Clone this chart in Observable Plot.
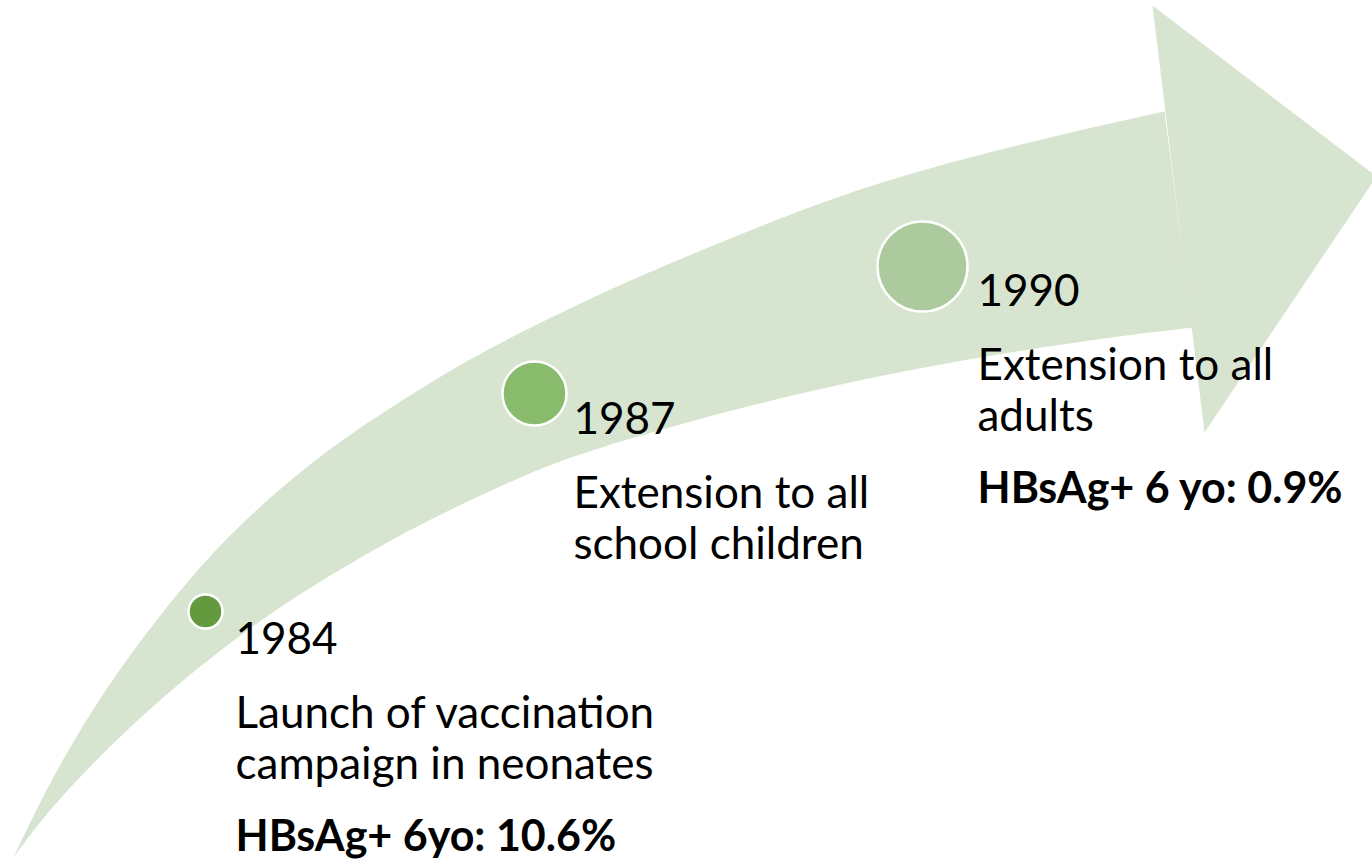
<!DOCTYPE html>
<html>
<head>
<meta charset="utf-8">
<script src="https://cdn.jsdelivr.net/npm/d3@7"></script>
<script src="https://cdn.jsdelivr.net/npm/@observablehq/plot@0.6"></script>
<style>
  html, body { margin: 0; padding: 0; background: #ffffff; }
  #chart svg { display: block; }
</style>
</head>
<body>
<div id="chart"></div>
<script>
// ---- data ----
const years = ["1984", "1987", "1990"];
const milestones = [
  "Launch of vaccination\ncampaign in neonates",
  "Extension to all\nschool children",
  "Extension to all\nadults"
];
const prevalence = ["HBsAg+ 6yo: 10.6%", "", "HBsAg+ 6 yo: 0.9%"];

// ---- layout (pixel frame 1372 x 864) ----
const arrowUpperEdge = [[13,857],[45,790],[80,728],[120,667],[160,614],[200,565],[250,514],[300,471],[350,433],[420,388],[480,352],[580,302],[680,258],[813,204],[916,170],[1076,130],[1164,111],[1164,111],[1164,111]];
const arrowLowerEdge = [[13,857],[40,820],[80,775],[140,716],[200,665],[257,622],[300,593],[353,561],[420,523],[520,476],[583,451],[756,402],[916,367],[1076,341],[1192,327],[1192,327],[1192,327]];
const arrowHead = [[1152,5],[1376,176],[1204,432]];
const markers = [[205,611,17],[534,393,32],[922,266,45]];
const labelAnchors = [[235,653],[573,433],[977,305]];
const markerColors = ["#649a3e", "#88bb6b", "#acca9e"];
const arrowColor = "#d7e4cf";

const shaft = [...arrowUpperEdge, ...arrowLowerEdge.slice().reverse()].map(([x, y]) => ({x, y}));
const head = arrowHead.map(([x, y]) => ({x, y}));
const events = years.map((year, i) => ({
  year,
  milestone: milestones[i],
  prevalence: prevalence[i],
  cx: markers[i][0], cy: markers[i][1], r: markers[i][2],
  tx: labelAnchors[i][0], ty: labelAnchors[i][1],
  color: markerColors[i]
}));

const font = "Lato, 'Open Sans', sans-serif";
const fs = 44;

const chart = Plot.plot({
  width: 1372,
  height: 864,
  margin: 0,
  x: {domain: [0, 1372], range: [0, 1372], axis: null},
  y: {domain: [0, 864], range: [0, 864], axis: null},
  r: {type: "identity"},
  color: {type: "identity"},
  style: {background: "#ffffff", fontFamily: font, overflow: "hidden"},
  marks: [
    Plot.line(shaft, {x: "x", y: "y", fill: arrowColor, stroke: "none", curve: "basis"}),
    Plot.line(head, {x: "x", y: "y", fill: arrowColor, stroke: "none", curve: "linear-closed"}),
    Plot.dot(events, {x: "cx", y: "cy", r: "r", fill: "color", stroke: "white", strokeWidth: 2.5}),
    Plot.text(events, {x: "tx", y: "ty", text: "year", textAnchor: "start", lineAnchor: "bottom",
      fontSize: fs, fontFamily: font, fill: "black"}),
    Plot.text(events, {x: "tx", y: d => d.ty + 125, text: "milestone", textAnchor: "start", lineAnchor: "bottom",
      lineHeight: 51 / fs, fontSize: fs, fontFamily: font, fill: "black"}),
    Plot.text(events.filter(d => d.prevalence), {x: "tx", y: d => d.ty + 197, text: "prevalence", textAnchor: "start", lineAnchor: "bottom",
      fontSize: 43, fontWeight: "bold", fontFamily: font, fill: "black"})
  ]
});
document.getElementById("chart").appendChild(chart);
</script>
</body>
</html>
